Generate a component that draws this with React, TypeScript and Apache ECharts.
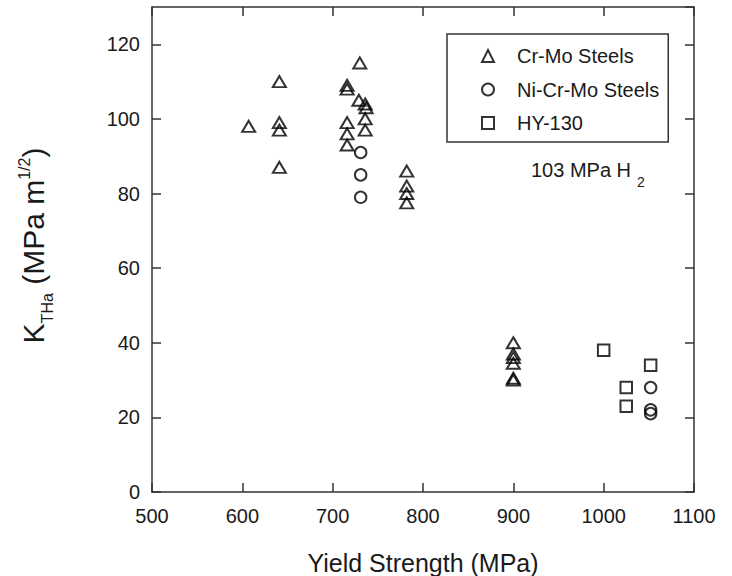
import React, { useEffect, useRef } from "react";
import * as echarts from "echarts";

const FONT = "'Liberation Sans', Arial, sans-serif";
const INK = "#1a1a1a";
const AXIS = "#333333";

const seriesNames = ["Cr-Mo Steels", "Ni-Cr-Mo Steels", "HY-130"];

// [yield strength (MPa), K_THa (MPa m^1/2)]
const crMoSteels: number[][] = [
  [607, 98],
  [641, 110], [641, 99], [641, 97], [641, 87],
  [716, 109], [716, 108], [716, 99], [716, 96], [716, 93],
  [730, 115], [729, 105], [736, 104], [737, 103], [736, 100], [736, 97],
  [782, 86], [782, 82], [782, 80], [782, 77.5],
  [900, 40], [900, 37], [900, 36], [900, 34.5], [900, 30], [900, 30.5],
];
const niCrMoSteels: number[][] = [
  [731, 91], [731, 85], [731, 79],
  [1052, 28], [1052, 22], [1052, 21],
];
const hy130: number[][] = [
  [1000, 38], [1052, 34], [1025, 28], [1025, 23],
];

const xTicks = { min: 500, max: 1100, interval: 100 };
const yTicks = { min: 0, max: 130, interval: 20 };

const annotation = { main: "103 MPa H", sub: "2" };

export default function App() {
  const ref = useRef<HTMLDivElement>(null);
  useEffect(() => {
    if (!ref.current) return;
    const chart = echarts.init(ref.current, null, { renderer: "svg" });
    const markerStyle = {
      color: "rgba(0,0,0,0)",
      borderColor: "#000",
      borderWidth: 2,
    };
    const axisLine = { show: true, onZero: false, lineStyle: { color: AXIS, width: 1.5 } };
    const axisTick = { show: true, inside: true, length: 9, lineStyle: { color: AXIS, width: 1.5 } };
    const plain = (v: number) => String(v);
    chart.setOption({
      animation: false,
      backgroundColor: "#fff",
      grid: { left: 152, right: 38, top: 7, bottom: 84, outerBoundsMode: "none", containLabel: false },
      legend: {
        orient: "vertical",
        left: 447,
        top: 34,
        padding: [12, 9, 9, 34],
        itemGap: 13.5,
        itemWidth: 12,
        itemHeight: 12,
        borderColor: AXIS,
        borderWidth: 1.5,
        borderRadius: 0,
        textStyle: { fontSize: 20, fontFamily: FONT, color: INK, padding: [0, 0, 0, 18] },
        data: [
          { name: seriesNames[0], icon: "triangle" },
          { name: seriesNames[1], icon: "circle" },
          { name: seriesNames[2], icon: "rect" },
        ],
      },
      xAxis: [
        {
          type: "value",
          position: "bottom",
          ...xTicks,
          axisLine,
          axisTick,
          splitLine: { show: false },
          axisLabel: { fontSize: 20, fontFamily: FONT, color: INK, margin: 14, formatter: plain },
          name: "Yield Strength (MPa)",
          nameLocation: "middle",
          nameGap: 58,
          nameTextStyle: { fontSize: 25, fontFamily: FONT, color: INK },
        },
        {
          type: "value",
          position: "top",
          ...xTicks,
          axisLine,
          axisTick,
          splitLine: { show: false },
          axisLabel: { show: false },
        },
      ],
      yAxis: [
        {
          type: "value",
          position: "left",
          ...yTicks,
          axisLine,
          axisTick,
          splitLine: { show: false },
          axisLabel: { fontSize: 20, fontFamily: FONT, color: INK, margin: 12, showMaxLabel: false, formatter: plain },
          name: "{m|K}{s|THa}{m| (MPa m}{p|1/2}{m|)}",
          nameLocation: "middle",
          nameRotate: 90,
          nameGap: 97,
          nameTextStyle: {
            fontFamily: FONT,
            color: INK,
            padding: [0, 0, 0, 8],
            rich: {
              m: { fontSize: 30, lineHeight: 43, fontFamily: FONT, color: INK },
              s: { fontSize: 16, verticalAlign: "bottom", fontFamily: FONT, color: INK },
              p: { fontSize: 16, verticalAlign: "top", padding: [4, 0, 0, 0], fontFamily: FONT, color: INK },
            },
          },
        },
        {
          type: "value",
          position: "right",
          ...yTicks,
          axisLine,
          axisTick,
          splitLine: { show: false },
          axisLabel: { show: false },
        },
      ],
      graphic: [
        {
          type: "text",
          x: 531,
          y: 170,
          style: {
            text: annotation.main,
            fontSize: 20,
            fontFamily: FONT,
            fill: INK,
            align: "left",
            verticalAlign: "middle",
          },
        },
        {
          type: "text",
          x: 637,
          y: 182,
          style: {
            text: annotation.sub,
            fontSize: 14,
            fontFamily: FONT,
            fill: INK,
            align: "left",
            verticalAlign: "middle",
          },
        },
      ],
      series: [
        {
          name: seriesNames[0],
          type: "scatter",
          symbol: "triangle",
          symbolSize: [13, 11],
          itemStyle: markerStyle,
          data: crMoSteels,
        },
        {
          name: seriesNames[1],
          type: "scatter",
          symbol: "circle",
          symbolSize: 11.5,
          itemStyle: markerStyle,
          data: niCrMoSteels,
        },
        {
          name: seriesNames[2],
          type: "scatter",
          symbol: "rect",
          symbolSize: 11.5,
          itemStyle: markerStyle,
          data: hy130,
        },
      ],
    });
    return () => chart.dispose();
  }, []);
  return (
    <div
      ref={ref}
      style={{ position: "absolute", left: 0, top: 0, width: 732, height: 576 }}
    />
  );
}
